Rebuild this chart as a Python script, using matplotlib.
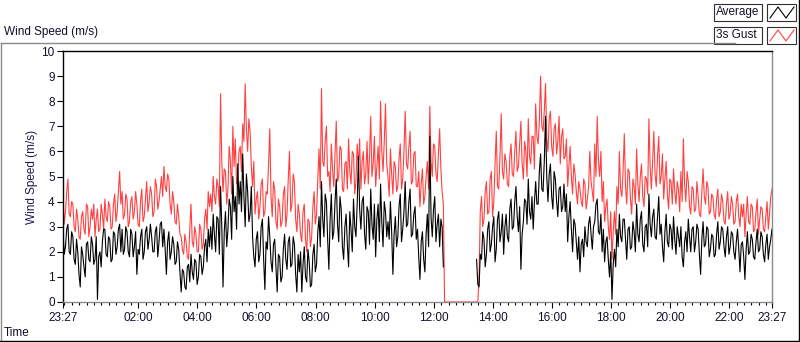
import numpy as np
import matplotlib
matplotlib.use("Agg")
import matplotlib.pyplot as plt
from matplotlib.lines import Line2D
from matplotlib.patches import Rectangle

plt.rcParams["font.family"] = ["Liberation Sans", "DejaVu Sans"]

# samples every 2.5 min starting 23:27 (hours relative to midnight: -0.55)
START_H = -0.55
STEP_MIN = 2.5

# 3 s gust, m/s, read at :00/:05 of each 5-min slot (one row per hour, 12 per row)
gust = [
    4.2, 3.6, 4.9, 3.4, 3.9, 2.8, 3.3, 2.5, 3.6, 2.7, 3.8, 3.0,
    3.3, 2.6, 3.7, 2.9, 3.5, 4.1, 3.2, 3.8, 3.0, 4.3, 3.6, 5.2,
    4.4, 3.5, 4.1, 3.2, 4.2, 3.6, 3.9, 3.0, 4.5, 3.4, 4.8, 4.0,
    4.3, 3.6, 4.6, 4.0, 5.0, 5.4, 4.4, 4.9, 3.5, 4.0, 3.1, 3.4,
    2.6, 1.9, 2.4, 1.7, 3.9, 2.2, 2.7, 2.0, 2.9, 2.3, 3.7, 4.4,
    4.3, 5.0, 3.9, 4.6, 8.3, 4.4, 5.2, 4.5, 5.6, 7.0, 6.5, 5.0,
    6.2, 7.1, 8.7, 6.0, 6.8, 4.6, 3.5, 4.4, 3.8, 4.9, 3.6, 4.3,
    6.9, 3.4, 4.5, 2.9, 3.8, 3.2, 4.6, 3.5, 6.0, 3.9, 4.8, 2.8,
    3.5, 2.4, 3.9, 2.0, 3.2, 2.6, 4.4, 3.5, 6.1, 8.5, 5.4, 7.0,
    5.2, 6.3, 4.6, 7.2, 5.0, 6.1, 4.4, 5.6, 6.5, 4.7, 5.9, 4.8,
    5.4, 4.5, 6.0, 5.1, 4.7, 7.4, 5.5, 4.6, 6.2, 8.0, 5.2, 7.9,
    5.0, 6.1, 4.3, 5.4, 4.6, 6.3, 4.9, 7.6, 5.3, 6.8, 4.8, 6.0,
    4.6, 3.8, 5.3, 4.2, 5.6, 7.8, 5.0, 6.2, 4.8, 6.9, 4.4, 0.0,
    0.0, 0.0, 0.0, 0.0, 0.0, 0.0, 0.0, 0.0, 0.0, 0.0, 0.0, 0.0,
    0.0, 0.9, 4.2, 3.3, 4.8, 3.6, 5.2, 4.0, 6.8, 4.5, 7.5, 4.9,
    5.6, 4.6, 6.3, 5.0, 6.8, 5.4, 7.2, 4.9, 6.0, 7.3, 5.5, 6.6,
    7.9, 6.3, 9.0, 6.8, 8.7, 6.0, 7.6, 5.8, 7.1, 6.4, 5.5, 6.9,
    5.8, 4.6, 6.2, 4.3, 5.1, 3.9, 4.5, 3.8, 4.7, 4.1, 6.0, 4.4,
    6.3, 7.4, 5.0, 4.0, 3.2, 4.1, 2.5, 1.7, 3.6, 4.6, 6.0, 4.2,
    6.7, 3.9, 5.2, 3.5, 4.6, 6.1, 4.0, 5.5, 3.8, 4.9, 7.3, 4.5,
    6.8, 4.6, 6.6, 5.0, 4.1, 5.6, 3.7, 4.8, 5.3, 3.9, 4.5, 5.2,
    6.5, 4.0, 4.8, 3.5, 4.5, 3.7, 4.2, 3.4, 5.3, 3.9, 4.6, 3.6,
    4.2, 3.3, 4.5, 3.6, 4.0, 3.1, 4.4, 3.5, 3.9, 3.2, 4.3, 3.0,
    3.4, 2.6, 4.2, 3.1, 3.8, 2.9, 4.1, 3.3, 3.7, 2.8, 4.0, 3.5, 4.5,
]

# 3 s gust read halfway through each 5-min slot
gust_half = [
    3.1, 4.4, 3.5, 4.0, 3.0, 3.7, 2.6, 3.4, 2.9, 3.9, 2.6, 3.7,
    3.9, 3.3, 2.8, 3.9, 2.9, 3.4, 4.0, 2.9, 3.9, 3.2, 4.4, 3.9,
    3.3, 4.3, 3.0, 4.0, 3.3, 4.4, 3.1, 4.0, 3.2, 4.1, 3.6, 4.6,
    3.4, 4.9, 3.7, 4.5, 4.2, 4.6, 5.1, 3.9, 4.4, 3.2, 3.9, 2.7,
    2.1, 2.7, 1.8, 2.9, 2.4, 3.0, 2.0, 3.1, 2.1, 3.3, 2.9, 3.8,
    3.6, 4.2, 4.9, 3.8, 5.6, 5.3, 3.9, 6.2, 4.3, 5.4, 4.7, 6.0,
    5.2, 6.4, 6.9, 7.3, 5.4, 5.6, 4.1, 3.3, 4.7, 3.4, 4.4, 5.5,
    4.2, 4.8, 3.2, 4.1, 3.0, 4.3, 3.0, 4.9, 3.6, 5.1, 3.3, 3.9,
    2.7, 3.6, 2.5, 3.3, 2.2, 3.8, 3.1, 4.9, 4.5, 5.6, 6.4, 5.0,
    4.4, 5.3, 5.9, 4.8, 6.2, 4.5, 5.5, 4.5, 5.2, 6.0, 4.3, 6.3,
    6.5, 5.6, 4.7, 6.4, 5.8, 5.0, 6.6, 5.4, 4.9, 6.0, 6.4, 5.5,
    4.2, 5.1, 5.6, 4.4, 5.7, 4.5, 6.0, 5.5, 6.2, 4.7, 5.9, 4.6,
    5.2, 4.7, 3.9, 5.0, 4.5, 5.6, 6.3, 5.1, 5.9, 5.3, 3.9, 0.0,
    0.0, 0.0, 0.0, 0.0, 0.0, 0.0, 0.0, 0.0, 0.0, 0.0, 0.0, 0.0,
    0.0, 3.6, 3.0, 4.4, 3.5, 4.9, 3.4, 5.5, 4.6, 5.8, 5.2, 5.9,
    4.7, 5.8, 5.1, 6.0, 5.2, 6.3, 5.5, 6.4, 5.0, 5.8, 6.6, 5.3,
    6.6, 7.2, 7.0, 7.6, 6.5, 7.3, 6.2, 6.9, 5.9, 7.4, 6.6, 5.7,
    6.5, 5.4, 5.0, 5.5, 4.4, 4.8, 4.0, 4.9, 3.7, 4.6, 4.8, 4.0,
    5.0, 5.6, 6.0, 4.8, 3.8, 3.0, 3.6, 2.8, 2.7, 3.9, 4.5, 5.2,
    4.6, 5.3, 4.1, 4.9, 3.9, 4.7, 5.0, 4.2, 5.0, 4.3, 5.4, 5.6,
    5.1, 5.8, 4.7, 5.9, 4.9, 4.3, 4.9, 3.9, 4.4, 4.8, 3.6, 4.0,
    4.7, 5.2, 3.8, 4.6, 3.6, 4.8, 3.5, 4.4, 4.2, 4.8, 3.5, 4.3,
    3.5, 4.1, 3.4, 4.3, 3.2, 3.9, 3.3, 4.2, 3.1, 4.0, 3.4, 3.9,
    3.9, 3.5, 3.2, 3.9, 2.8, 3.6, 2.7, 3.8, 2.9, 3.4, 2.9, 4.2,
]

# average wind speed, m/s, same slots as gust (None = no data)
average = [
    2.8, 2.2, 3.1, 1.9, 2.6, 1.5, 2.0, 0.6, 1.9, 1.0, 2.4, 1.6,
    2.3, 1.7, 0.1, 2.0, 2.4, 2.9, 1.8, 2.5, 1.7, 2.7, 2.2, 3.1,
    2.9, 2.1, 2.8, 1.8, 2.7, 2.2, 1.1, 1.9, 2.9, 2.0, 3.0, 2.5,
    2.6, 2.0, 3.0, 2.4, 3.2, 2.9, 1.1, 2.8, 2.0, 2.3, 1.6, 2.1,
    0.4, 1.2, 0.5, 1.5, 1.9, 0.9, 1.6, 1.0, 1.8, 1.4, 2.5, 2.9,
    3.0, 3.5, 2.0, 3.3, 4.6, 0.6, 3.6, 2.9, 3.8, 5.0, 4.2, 5.5,
    4.8, 5.9, 3.0, 4.4, 3.5, 2.6, 1.4, 2.8, 1.9, 3.3, 0.5, 2.1,
    2.6, 1.2, 2.5, 0.4, 1.8, 1.0, 2.7, 1.3, 2.6, 1.5, 2.3, 0.4,
    1.2, 0.4, 2.2, 0.8, 1.6, 0.7, 2.3, 1.5, 3.4, 4.8, 2.6, 4.0,
    1.3, 4.3, 2.8, 4.9, 2.4, 3.7, 1.7, 3.5, 1.4, 2.9, 4.1, 2.6,
    5.8, 2.9, 4.2, 2.1, 3.6, 4.5, 2.5, 1.8, 3.9, 4.7, 2.2, 3.6,
    3.2, 4.0, 1.1, 3.4, 2.6, 4.3, 2.9, 4.8, 3.1, 4.5, 2.7, 3.8,
    2.9, 0.9, 2.8, 1.2, 3.5, 6.6, 2.6, 4.2, 3.1, 2.2, 3.0, None,
    None, None, None, None, None, None, None, None, None, None, None, None,
    1.7, 0.6, 1.7, 2.5, 1.9, 3.2, 2.3, 3.4, 2.1, 3.6, 2.8, 1.9,
    3.5, 2.4, 4.1, 3.0, 4.6, 2.8, 1.3, 3.2, 4.0, 4.9, 3.3, 2.9,
    4.8, 3.9, 5.9, 4.4, 7.4, 4.0, 5.5, 3.7, 4.9, 3.4, 4.6, 3.8,
    3.6, 2.4, 4.0, 2.0, 3.1, 1.7, 1.2, 2.5, 3.0, 2.2, 3.4, 2.1,
    3.2, 4.1, 2.7, 2.0, 1.6, 2.6, 1.0, 0.1, 2.1, 2.9, 3.5, 2.4,
    3.3, 1.7, 3.0, 2.2, 2.8, 3.9, 2.4, 3.6, 2.0, 3.1, 4.3, 2.6,
    3.7, 2.5, 4.2, 3.1, 1.6, 3.5, 2.2, 2.9, 3.4, 1.9, 2.6, 3.0,
    1.4, 2.8, 3.3, 2.0, 3.0, 2.4, 2.9, 1.1, 3.2, 2.3, 2.9, 2.1,
    2.6, 1.9, 3.2, 2.4, 2.9, 1.8, 3.0, 2.2, 2.7, 1.7, 2.9, 1.2,
    2.4, 0.9, 2.8, 2.0, 2.5, 1.7, 2.9, 2.1, 2.6, 1.6, 2.7, 2.2, 2.9,
]

average_half = [
    1.9, 2.9, 2.0, 2.8, 1.7, 2.5, 1.1, 2.2, 1.4, 2.3, 1.7, 2.6,
    1.5, 2.6, 1.8, 1.4, 2.9, 1.9, 2.6, 1.6, 2.8, 1.9, 2.9, 2.0,
    1.9, 3.0, 2.0, 2.9, 1.8, 2.8, 2.1, 2.6, 1.7, 2.8, 2.1, 3.1,
    2.0, 2.8, 1.8, 3.1, 2.2, 2.1, 2.4, 1.7, 2.6, 1.5, 2.4, 1.2,
    1.3, 0.6, 1.4, 0.8, 1.2, 1.7, 0.7, 1.9, 1.1, 2.2, 1.6, 2.2,
    2.1, 2.7, 3.4, 1.9, 3.0, 2.8, 2.2, 4.1, 2.5, 3.6, 2.9, 3.9,
    3.6, 4.2, 5.1, 3.2, 4.6, 1.8, 2.5, 1.6, 3.0, 1.7, 2.4, 3.4,
    1.6, 2.3, 1.4, 1.9, 0.8, 2.1, 1.7, 2.4, 1.4, 2.6, 1.1, 1.9,
    2.0, 1.5, 1.0, 2.1, 0.6, 1.9, 1.2, 2.8, 2.2, 3.3, 4.3, 2.5,
    3.3, 2.5, 4.0, 3.1, 4.2, 2.2, 3.0, 2.3, 3.6, 2.0, 3.0, 3.9,
    3.7, 4.0, 2.7, 3.8, 2.3, 3.1, 3.9, 3.3, 2.4, 3.2, 4.0, 2.6,
    2.5, 2.8, 2.7, 2.2, 3.8, 2.4, 3.6, 3.0, 4.0, 2.6, 3.5, 2.5,
    1.8, 2.4, 1.7, 2.7, 2.2, 3.4, 3.7, 2.4, 3.5, 3.3, 1.4, None,
    None, None, None, None, None, None, None, None, None, None, None, None,
    0.7, 1.9, 2.8, 1.4, 2.9, 2.0, 3.0, 1.6, 3.3, 2.4, 3.5, 3.0,
    2.6, 3.7, 2.9, 4.0, 3.4, 3.8, 2.7, 4.1, 3.1, 3.6, 4.2, 4.0,
    3.9, 5.2, 4.5, 5.6, 5.0, 5.1, 4.2, 5.2, 4.0, 4.5, 3.6, 4.7,
    4.3, 3.4, 2.9, 3.3, 2.4, 2.6, 2.3, 1.8, 2.4, 3.1, 2.7, 3.0,
    3.9, 2.8, 3.5, 2.9, 2.4, 1.7, 2.0, 1.5, 1.4, 2.2, 2.6, 3.3,
    2.5, 2.9, 2.1, 3.2, 2.0, 2.7, 3.3, 2.3, 3.0, 2.2, 3.1, 3.4,
    2.6, 3.4, 2.7, 2.2, 2.8, 2.4, 3.1, 2.1, 2.5, 3.0, 2.2, 1.8,
    2.4, 2.0, 2.6, 2.9, 2.0, 3.1, 1.9, 2.5, 2.2, 3.0, 1.8, 2.7,
    1.8, 2.7, 2.1, 3.0, 2.2, 2.6, 1.9, 2.8, 2.0, 2.4, 2.1, 2.3,
    1.8, 2.1, 1.9, 2.7, 1.8, 2.4, 2.0, 2.8, 1.9, 2.3, 1.7, 2.5,
]

x_ticks = [-0.55, 2, 4, 6, 8, 10, 12, 14, 16, 18, 20, 22, 23.45]
x_labels = ["23:27", "02:00", "04:00", "06:00", "08:00", "10:00", "12:00",
            "14:00", "16:00", "18:00", "20:00", "22:00", "23:27"]

RED = "#ff4040"
INK = "#10102a"
FRAME = "#8a8a8a"

W, H = 800, 342


def fx(px):
    return px / W


def fy(py):
    return 1 - py / H


def interleave(main, half):
    out = []
    for i, v in enumerate(main):
        out.append(v)
        if i < len(half):
            out.append(half[i])
    return np.array(out, dtype=float)


def main():
    g = interleave(gust, gust_half)
    a = interleave(average, average_half)
    t = START_H + np.arange(len(g)) * STEP_MIN / 60.0

    fig = plt.figure(figsize=(8, 3.42), dpi=100)
    fig.patch.set_facecolor("white")
    ax = fig.add_axes([fx(63), fy(302), fx(772) - fx(63), fy(51) - fy(302)])

    ax.plot(t, g, color=RED, lw=0.8, zorder=2)
    ax.plot(t, a, color="black", lw=0.8, zorder=3)

    ax.set_xlim(-0.55, 23.45)
    ax.set_ylim(0, 10)
    ax.set_yticks(range(0, 11))
    ax.set_xticks(x_ticks)
    ax.set_xticklabels(x_labels)
    ax.set_xticks(np.arange(-0.5, 23.45, 0.25), minor=True)
    ax.tick_params(axis="both", labelsize=8.5, labelcolor=INK, color="black",
                   width=0.8)
    ax.tick_params(axis="x", which="major", length=4.5, pad=3)
    ax.tick_params(axis="x", which="minor", length=2.5, width=0.8)
    ax.tick_params(axis="y", length=4, pad=2)

    for s in ("left", "top"):
        ax.spines[s].set_color("black")
    for s in ("right", "bottom"):
        ax.spines[s].set_color(FRAME)
    for s in ax.spines.values():
        s.set_linewidth(1.0)

    ax.set_ylabel("Wind Speed (m/s)", fontsize=8.5, color="#1a1a50")
    ax.yaxis.set_label_coords((38 - 63) / 709, 0.5)

    fig.text(fx(4), fy(333), "Time", fontsize=8.5, color=INK, ha="left", va="center")
    fig.text(fx(4), fy(32), "Wind Speed (m/s)", fontsize=8.5, color=INK,
             ha="left", va="center")

    # outer sunken frame
    fig.add_artist(Line2D([fx(0.5), fx(735)], [fy(42.5), fy(42.5)], color=FRAME, lw=1))
    fig.add_artist(Line2D([fx(0.5), fx(0.5)], [fy(42.5), fy(341)], color=FRAME, lw=1))
    fig.add_artist(Line2D([fx(0), fx(799)], [fy(340.5), fy(340.5)], color="black", lw=1))
    fig.add_artist(Line2D([fx(798.5), fx(798.5)], [fy(0), fy(341)], color="black", lw=1))

    # plot legend (LabVIEW style)
    legend_rows = [("Average", "black", 4), ("3s Gust", RED, 27)]
    for name, col, top in legend_rows:
        fig.add_artist(Rectangle((fx(714), fy(top + 17)), fx(762) - fx(714),
                                 fy(top) - fy(top + 17), facecolor="white",
                                 edgecolor="#303030", lw=0.8))
        fig.text(fx(716), fy(top + 8.5), name, fontsize=8.5, color=INK,
                 ha="left", va="center")
        fig.add_artist(Rectangle((fx(767), fy(top + 17)), fx(796) - fx(767),
                                 fy(top) - fy(top + 17), facecolor="white",
                                 edgecolor="#303030", lw=0.8))
        zx = [770, 778, 786, 794]
        zy = [top + 14, top + 3, top + 14, top + 3]
        fig.add_artist(Line2D([fx(v) for v in zx], [fy(v) for v in zy],
                              color=col, lw=0.8))

    fig.savefig("out.png", dpi=100, facecolor="white")
    plt.close(fig)


if __name__ == "__main__":
    main()
